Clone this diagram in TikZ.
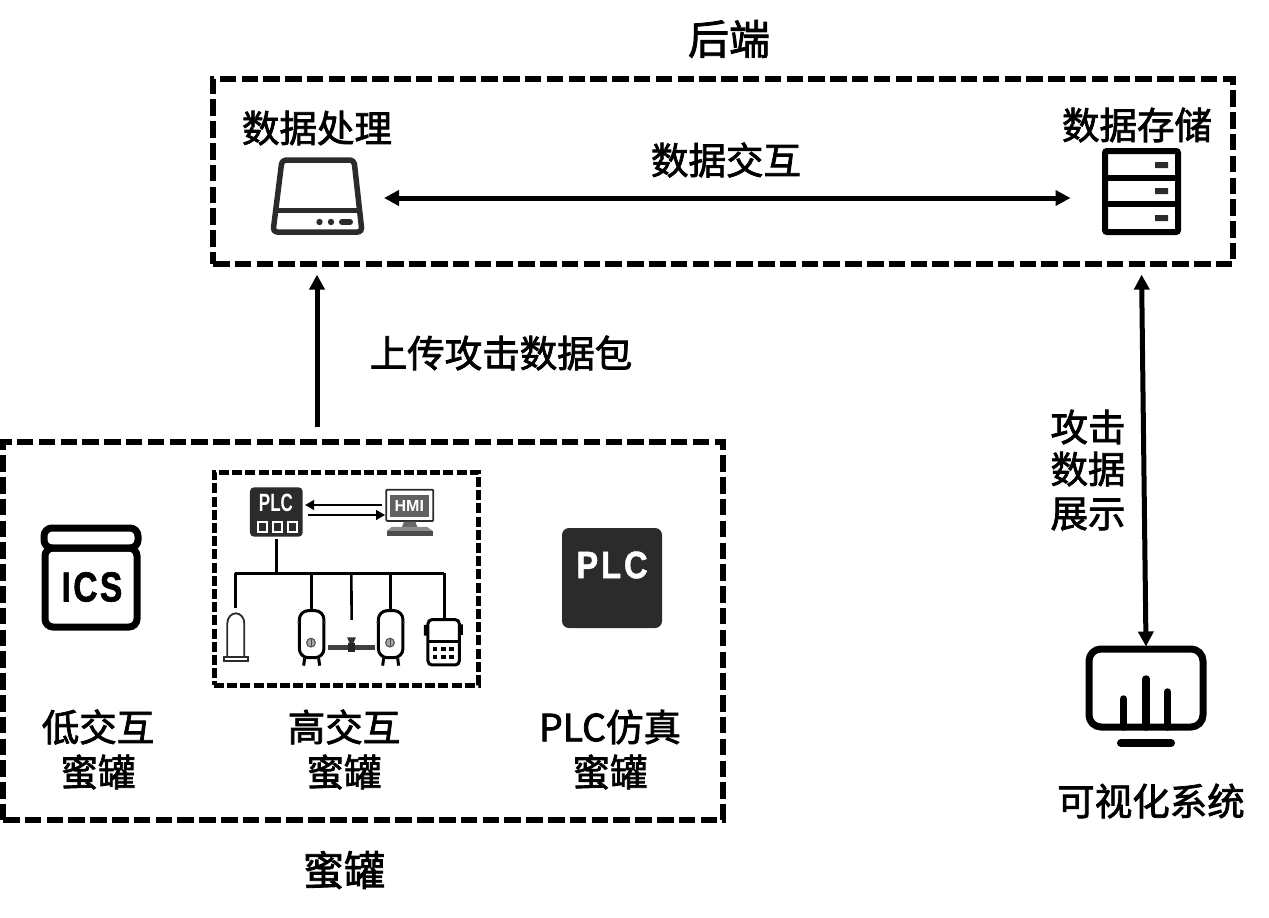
\documentclass[tikz,border=0pt]{standalone}
\usepackage{fontspec}
\setmainfont[FakeBold=2]{Noto Sans CJK SC}
\newfontfamily\latf{Liberation Sans}
\usetikzlibrary{arrows.meta,calc}
\definecolor{ink}{HTML}{2B2B2B}
\tikzset{
  label37/.style={inner sep=0pt,font=\fontsize{37.5}{40}\selectfont,text=black},
  label41/.style={inner sep=0pt,font=\fontsize{41}{44}\selectfont,text=black},
  bigframe/.style={draw=black,line width=5.2pt,dash pattern=on 16.5pt off 5.3pt,inner sep=0pt},
  smallframe/.style={draw=black,line width=5pt,dash pattern=on 10pt off 3.2pt,inner sep=0pt},
  anchorbox/.style={inner sep=0pt,outer sep=0pt},
  mainarrow/.style={line width=5pt,{Triangle[length=15pt,width=15pt]}-{Triangle[length=15pt,width=15pt]}},
  uparrow/.style={line width=5pt,-{Triangle[length=15pt,width=15pt]}},
  thinarrow/.style={line width=2.6pt,-{Triangle[length=9pt,width=9.5pt]}},
  bus/.style={line width=2.6pt,black},
  icon/.style={line join=round,line cap=round},
}
\begin{document}
\begin{tikzpicture}[x=1pt,y=-1pt]
\useasboundingbox (0,0) rectangle (1269,918);
\fill[white] (0,0) rectangle (1269,918);

% frames
\node[bigframe,minimum width=1020pt,minimum height=185pt] (backend) at (723,171.5) {};
\node[bigframe,minimum width=720pt,minimum height=378pt] (honeypot) at (363,631) {};
\node[smallframe,minimum width=264pt,minimum height=213pt] (high) at (346,578.5) {};

% labels
\node[label41] (lbackend) at (729,39) {后端};
\node[label37] (lproc) at (317,128) {数据处理};
\node[label37] (lstore) at (1137,125) {数据存储};
\node[label37] (lxchg) at (726,160) {数据交互};
\node[label37] (lupload) at (501,353) {上传攻击数据包};
\node[label37] (lshow1) at (1088,427) {攻击};
\node[label37] (lshow2) at (1088,469) {数据};
\node[label37] (lshow3) at (1088,514) {展示};
\node[label37] (llow1) at (98,727) {低交互};
\node[label37] (llow2) at (98,772) {蜜罐};
\node[label37] (lhigh1) at (344,727) {高交互};
\node[label37] (lhigh2) at (344,772) {蜜罐};
\node[label37] (lplc1) at (610,727) {PLC仿真};
\node[label37] (lplc2) at (610,772) {蜜罐};
\node[label41] (lhoney) at (344,870) {蜜罐};
\node[label37] (lvis) at (1151,801) {可视化系统};

% disk icon
\node[anchorbox,minimum width=95pt,minimum height=78pt] (proc) at (317,198) {};
\draw[icon,draw=ink,line width=5.5pt,rounded corners=4pt] (282,160) -- (354,160) -- (362,232) -- (273,232) -- cycle;
\draw[draw=ink,line width=5.5pt] (274,210.5) -- (361,210.5);
\fill[ink] (319.5,222) circle (3.2pt) (331,222) circle (3.2pt);
\draw[ink,line width=6pt,line cap=round] (342,222) -- (350,222);

% storage icon
\node[anchorbox,minimum width=79pt,minimum height=87pt] (store) at (1141.5,191) {};
\draw[draw=black,line width=6pt,rounded corners=2pt] (1105,151) rectangle (1178,232);
\draw[line width=6pt] (1105,177.5) -- (1178,177.5) (1105,204) -- (1178,204);
\fill[ink] (1155,162) rectangle (1168,168) (1155,188) rectangle (1168,194) (1155,215) rectangle (1168,221);

% monitor icon
\node[anchorbox,minimum width=121pt,minimum height=85pt] (mon) at (1146,688) {};
\draw[line width=7pt,rounded corners=12pt] (1089,649) rectangle (1203,727);
\draw[line width=7.5pt,line cap=round] (1123.5,727) -- (1123.5,699) (1146,727) -- (1146,679) (1167.5,727) -- (1167.5,692);
\draw[line width=8pt,line cap=round] (1121,743) -- (1171,743);

% ICS icon
\node[anchorbox,minimum width=100pt,minimum height=106pt] (ics) at (91,577) {};
\draw[line width=7pt,rounded corners=8pt] (44,528) rectangle (138,548);
\draw[line width=7pt,rounded corners=8pt] (45,548) rectangle (137,627);
\node[inner sep=0pt,font=\latf\bfseries\fontsize{42}{42}\selectfont\addfontfeature{LetterSpace=7,FakeBold=1.5},xscale=.8] (icstext) at (92,587) {ICS};

% PLC big icon
\node[anchorbox,fill=ink,rounded corners=7pt,minimum width=100pt,minimum height=100pt] (plcbig) at (612,578) {};
\node[inner sep=0pt,text=white,font=\latf\bfseries\fontsize{38}{38}\selectfont\addfontfeature{LetterSpace=9,FakeBold=1.5},xscale=.86] (plcbigtext) at (612,565) {PLC};

% high-interaction scene (coordinates: zoom crop, thirds of a pixel)
\begin{scope}[shift={(210,465)},x=0.3333pt,y=-0.3333pt]
  \node[anchorbox,fill=ink,rounded corners=4pt,minimum width=52.7pt,minimum height=49.3pt] (plcs) at (199,141) {};
  \node[inner sep=0pt,text=white,font=\latf\bfseries\fontsize{25}{25}\selectfont,xscale=.68] (plcstext) at (198,115) {PLC};
  \draw[white,line width=1.9pt] (143,170) rectangle (171,200) (188,170) rectangle (216,200) (233,170) rectangle (261,200);

  \node[anchorbox,minimum width=48.3pt,minimum height=47pt] (hmi) at (598,142) {};
  \draw[ink,line width=1.8pt,fill=white,rounded corners=1pt] (529,74) rectangle (670,168);
  \fill[black!62] (541,90) rectangle (658,155);
  \node[inner sep=0pt,text=white,font=\latf\bfseries\fontsize{16}{16}\selectfont] (hmitext) at (598,122) {HMI};
  \fill[black!60] (582,170) -- (616,170) -- (622,186) -- (576,186) -- cycle;
  \fill[black!45] (545,186) -- (652,186) -- (668,198) -- (530,198) -- cycle;
  \fill[black!70] (530,198) rectangle (668,213);

  \draw[thinarrow] ($(hmi.west)+(-11,-22)$) -- ($(plcs.east)+(7,-21)$);
  \draw[thinarrow] ($(plcs.east)+(17,9)$) -- ($(hmi.west)+(0,8)$);

  \coordinate (busl) at (75,325);
  \coordinate (busr) at (703,325);
  \draw[bus,line width=3pt] (plcs.south) ++(0,7) -- (plcs.south |- busl);
  \draw[bus] (busl) -- (busr);

  % gas cylinder
  \node[anchorbox,minimum width=25pt,minimum height=49pt] (cyl) at (77,517) {};
  \draw[ink,line width=1.8pt] (52,575) -- (52,475) arc[start angle=180,end angle=360,x radius=25.5,y radius=30] -- (103,575);
  \draw[ink,line width=1.8pt] (41,575) rectangle (114,589);
  \draw[bus] (busl) ++(2,0) -- ++(0,105);

  % tanks
  \node[anchorbox,minimum width=26pt,minimum height=56pt] (tanka) at (305,516) {};
  \node[anchorbox,minimum width=26pt,minimum height=56pt] (tankb) at (542,516) {};
  \foreach \cx in {305,542}{
    \draw[black,line width=3pt,rounded corners=9pt] (\cx-37,437) rectangle (\cx+37,578);
    \draw[black,line width=3pt] (\cx-21,580) -- (\cx-24,602) (\cx+21,580) -- (\cx+24,602);
    \filldraw[draw=black!70,fill=black!35,line width=1pt] (\cx-2,533) circle (4.4pt);
    \draw[black!70,line width=.8pt] (\cx-2,520) -- (\cx-2,546);
    \draw[black!60,line width=1pt] (\cx-44,472) -- (\cx-37,472) (\cx+37,472) -- (\cx+44,472);
  }
  \draw[bus] (tanka.center |- busl) -- (tanka.north);
  \draw[bus] (tankb.center |- busl) -- (tankb.north);

  % valve and pipe
  \node[anchorbox,minimum width=9pt,minimum height=14pt] (valve) at (424,540) {};
  \draw[black!75,line width=4.6pt] (354,548) -- (495,548);
  \fill[black!85] (414,535) rectangle (435,561);
  \fill[black!80] (411,517) -- (438,517) -- (430,535) -- (419,535) -- cycle;
  \draw[bus] (valve.center |- busl) -- (425,465);

  % handheld device
  \node[anchorbox,minimum width=33pt,minimum height=46pt] (dev) at (701,531) {};
  \draw[black,line width=3pt,rounded corners=4pt] (654,464) rectangle (748,600);
  \draw[black,line width=3pt] (654,530) -- (748,530);
  \fill[black] (642,480) rectangle (652,512) (750,478) rectangle (759,510);
  \foreach \kx in {675,700,725} \foreach \ky in {553,575} \fill[black] (\kx-7,\ky-6) rectangle (\kx+7,\ky+6);
  \draw[bus] (busr) -- (dev.north -| busr);
\end{scope}

% connectors
\draw[mainarrow,shorten <=19.5pt,shorten >=31.5pt] (proc.east) -- (proc.east -| store.west);
\draw[uparrow,shorten <=12pt,shorten >=8pt] (honeypot.north -| proc) -- (backend.south -| proc);
\draw[mainarrow,shorten <=8pt,shorten >=-1pt] (backend.south -| store) -- (mon.north);
\end{tikzpicture}
\end{document}
